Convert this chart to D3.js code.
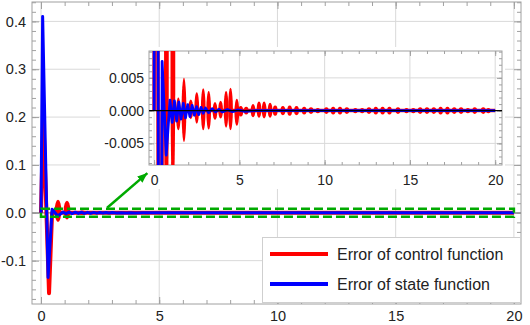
<!DOCTYPE html>
<html>
<head>
<meta charset="utf-8">
<script src="https://cdn.jsdelivr.net/npm/d3@7"></script>
<style>
  html, body { margin: 0; padding: 0; background: #fff; }
  svg { display: block; font-family: "Liberation Sans", Arial, sans-serif; }
</style>
</head>
<body>
<div id="chart"></div>
<script>
// tick values
const timeTicks = [0, 5, 10, 15, 20];
const mainValueTicks = [-0.1, 0, 0.1, 0.2, 0.3, 0.4];
const insetValueTicks = [-0.005, 0, 0.005];
const seriesNames = ["Error of control function", "Error of state function"];

// state error (blue): spike, then a decaying wiggle
const stateT = [0, 0.07, 0.30, 0.47, 0.71, 0.93, 1.06, 1.19, 1.32, 1.45, 1.58, 1.71, 1.84, 1.97, 2.10,
  2.23, 2.36, 2.49, 2.62, 2.75, 2.88, 3.01, 3.20, 3.40, 3.60, 3.80, 4.00, 4.30, 4.60, 4.90, 5.30, 6.0, 20];
const stateErr = [0, 0.41, -0.135, 0.0075, -0.0068, 0.0016, -0.0018, 0.0015, -0.0016, 0.0013, -0.0013, 0.0011, -0.0011, 0.0009, -0.0009,
  0.0008, -0.0007, 0.0006, -0.0006, 0.0005, -0.0004, 0.0004, -0.0003, 0.0003, -0.0002, 0.0002, -0.0002, 0.00015, -0.00015, 0.0001, -0.0001, 0, 0];

// control error (red): first transient
const controlT = [0, 0.10, 0.34, 0.47, 20];
const controlErr = [0, 0.2, -0.168, 0, 0];

// control error ringing, one blob per burst: centre time, top and bottom
const lobeT = [0.72, 1.10, 1.42, 1.75, 2.15, 2.50, 2.88, 3.20, 3.57, 3.90, 4.22, 4.48, 4.85, 5.08, 5.40,
  5.80, 6.15, 6.45, 6.80, 7.10, 7.55, 7.95, 8.35, 8.80, 9.20, 9.60, 10.1, 10.5, 10.9, 11.3,
  11.8, 12.2, 12.6, 13.0, 13.4, 13.8, 14.3, 14.8, 15.2, 15.6, 16.0, 16.4, 16.8, 17.2, 17.6,
  18.0, 18.4, 18.8, 19.3, 19.6];
const lobeHi = [0.027, 0.025, 0.002, 0.0050, 0.0017, 0.0028, 0.0034, 0.0030, 0.0013, 0.0015, 0.0030, 0.0035, 0.0018, 0.0007, 0.0006,
  0.0010, 0.0014, 0.0014, 0.0012, 0.0008, 0.0007, 0.0008, 0.0007, 0.0006, 0.0005, 0.0004, 0.0005, 0.0006, 0.0006, 0.0005,
  0.0004, 0.0004, 0.0005, 0.0006, 0.0006, 0.0006, 0.0005, 0.0004, 0.0004, 0.0005, 0.0005, 0.0005, 0.0006, 0.0006, 0.0005,
  0.0005, 0.0004, 0.0005, 0.0005, 0.0004];
const lobeLo = [-0.019, -0.014, -0.003, -0.0048, -0.0013, -0.0020, -0.0030, -0.0029, -0.0014, -0.0012, -0.0026, -0.0030, -0.0023, -0.0009, -0.0006,
  -0.0010, -0.0011, -0.0012, -0.0011, -0.0008, -0.0007, -0.0008, -0.0007, -0.0006, -0.0005, -0.0004, -0.0005, -0.0006, -0.0006, -0.0005,
  -0.0004, -0.0004, -0.0005, -0.0006, -0.0006, -0.0006, -0.0005, -0.0004, -0.0004, -0.0005, -0.0005, -0.0005, -0.0006, -0.0006, -0.0005,
  -0.0005, -0.0004, -0.0005, -0.0005, -0.0004];

// zoom window shown in the inset, and the arrow pointing to it (main plot units)
const zoomT = [0, 20];
const zoomV = [-0.0085, 0.0085];
const arrowT = [2.8, 4.5];
const arrowV = [0.0105, 0.083];

const RED = "#ff0000", BLUE = "#0000ff", GREEN = "#00aa00";
const FRAME = "#a0a0a0", GRID = "#d9d9d9", LABEL = "#222";
const LOBE_HALF = 0.14;

const svg = d3.select("#chart").append("svg")
  .attr("width", 530).attr("height", 325);

const xMain = d3.scaleLinear().domain([-0.38, 20.3]).range([32, 521]);
const yMain = d3.scaleLinear().domain([-0.1906, 0.4405]).range([304, 2]);
const xIn = d3.scaleLinear().domain([-0.3, 20.4]).range([149, 502]);
const yIn = d3.scaleLinear().domain([-0.0083, 0.0091]).range([165, 51]);

const stateData = stateT.map((t, i) => ({ t, v: stateErr[i] }));
const controlData = controlT.map((t, i) => ({ t, v: controlErr[i] }));
const lobeData = lobeT.map((t, i) => ({ t, hi: lobeHi[i], lo: lobeLo[i] }));

// hyphen minus like the original labels
const numFormat = spec => d => d3.format(spec)(d).replace("\u2212", "-");

// grid, frame ticks and labels for one panel
const drawPanel = (g, x, y, o) => {
  const [xa, xb] = x.range();
  const [yb, ya] = y.range();

  g.append("rect")
    .attr("x", xa).attr("y", ya).attr("width", xb - xa).attr("height", yb - ya)
    .attr("fill", "#fff");

  g.append("g").selectAll("line").data(timeTicks).join("line")
    .attr("x1", d => x(d)).attr("x2", d => x(d)).attr("y1", ya).attr("y2", yb)
    .attr("stroke", GRID);
  g.append("g").selectAll("line").data(o.yMajor.filter(d => d !== 0)).join("line")
    .attr("x1", xa).attr("x2", xb).attr("y1", d => y(d)).attr("y2", d => y(d))
    .attr("stroke", GRID);

  const axes = [
    [d3.axisBottom(x), `translate(0,${yb})`, timeTicks, o.xMinor, d3.format("d"), o.padBottom],
    [d3.axisTop(x), `translate(0,${ya})`, timeTicks, o.xMinor, null, 0],
    [d3.axisLeft(y), `translate(${xa},0)`, o.yMajor, o.yMinor, o.yFormat, o.padLeft],
    [d3.axisRight(y), `translate(${xb},0)`, o.yMajor, o.yMinor, null, 0]
  ];
  axes.forEach(([axis, tr, major, minor, fmt, pad]) => {
    const ga = g.append("g").attr("transform", tr);
    ga.call(axis.tickValues(minor).tickSize(-o.minorLen).tickFormat(""));
    ga.append("g").call(axis.tickValues(major).tickSize(-o.majorLen)
      .tickPadding(pad).tickFormat(fmt || ""));
    ga.selectAll(".domain").remove();
    ga.selectAll("line").attr("stroke", FRAME);
    ga.selectAll("text").attr("fill", LABEL).style("font-size", o.fontSize + "px")
      .style("font-family", "'Liberation Sans', Arial, sans-serif");
  });

  g.append("rect")
    .attr("x", xa).attr("y", ya).attr("width", xb - xa).attr("height", yb - ya)
    .attr("fill", "none").attr("stroke", FRAME);
};

const drawSeries = (g, x, y, o) => {
  const [xa, xb] = x.range();
  const [yb, ya] = y.range();
  const clipId = "clip-" + o.id;
  g.append("clipPath").attr("id", clipId).append("rect")
    .attr("x", xa).attr("y", ya).attr("width", xb - xa).attr("height", yb - ya);
  const c = g.append("g").attr("clip-path", `url(#${clipId})`);

  const line = d3.line().x(d => x(d.t)).y(d => y(d.v));

  c.append("path").datum(controlData)
    .attr("d", line).attr("fill", "none")
    .attr("stroke", RED).attr("stroke-width", o.redWidth).attr("stroke-linejoin", "round");
  c.selectAll(".lobe").data(lobeData).join("ellipse")
    .attr("class", "lobe")
    .attr("cx", d => x(d.t))
    .attr("cy", d => (y(d.hi) + y(d.lo)) / 2)
    .attr("rx", d => x(d.t + LOBE_HALF) - x(d.t))
    .attr("ry", d => (y(d.lo) - y(d.hi)) / 2)
    .attr("fill", RED);
  c.append("path").datum(stateData)
    .attr("d", line).attr("fill", "none")
    .attr("stroke", BLUE).attr("stroke-width", o.blueWidth).attr("stroke-linejoin", "round");
};

// main plot
const gMain = svg.append("g");
drawPanel(gMain, xMain, yMain, {
  yMajor: mainValueTicks,
  yMinor: d3.range(-0.18, 0.441, 0.02),
  xMinor: d3.range(0, 21, 1),
  yFormat: numFormat(".1f"),
  majorLen: 7, minorLen: 4, fontSize: 14.5, padBottom: 7, padLeft: 6
});
gMain.append("line")
  .attr("x1", xMain.range()[0]).attr("x2", xMain.range()[1])
  .attr("y1", yMain(0)).attr("y2", yMain(0))
  .attr("stroke", "#8c8c8c").attr("stroke-width", 1.3);
drawSeries(gMain, xMain, yMain, { id: "main", redWidth: 4, blueWidth: 3 });

// zoom window
gMain.append("rect")
  .attr("x", xMain(zoomT[0])).attr("y", yMain(zoomV[1]))
  .attr("width", xMain(zoomT[1]) - xMain(zoomT[0]))
  .attr("height", yMain(zoomV[0]) - yMain(zoomV[1]))
  .attr("fill", "none").attr("stroke", GREEN).attr("stroke-width", 2.5)
  .attr("stroke-dasharray", "9,4");

// inset
const gIn = svg.append("g");
gIn.append("rect")
  .attr("x", 100).attr("y", 47).attr("width", 405).attr("height", 142)
  .attr("fill", "#fff");
drawPanel(gIn, xIn, yIn, {
  yMajor: insetValueTicks,
  yMinor: d3.range(-0.008, 0.0091, 0.001),
  xMinor: d3.range(0, 21, 1),
  yFormat: numFormat(".3f"),
  majorLen: 5, minorLen: 3, fontSize: 14, padBottom: 10, padLeft: 5
});
drawSeries(gIn, xIn, yIn, { id: "inset", redWidth: 3.5, blueWidth: 2.8 });
gIn.append("line")
  .attr("x1", xIn.range()[0]).attr("x2", xIn.range()[1])
  .attr("y1", yIn(0)).attr("y2", yIn(0))
  .attr("stroke", "#000").attr("stroke-width", 1.2);

// arrow from the zoom window to the inset
svg.append("defs").append("marker")
  .attr("id", "head").attr("viewBox", "0 0 10 8")
  .attr("refX", 10).attr("refY", 4)
  .attr("markerWidth", 10).attr("markerHeight", 8)
  .attr("markerUnits", "userSpaceOnUse").attr("orient", "auto")
  .append("path").attr("d", "M0,0L10,4L0,8Z").attr("fill", GREEN);
svg.append("line")
  .attr("x1", xMain(arrowT[0])).attr("y1", yMain(arrowV[0]))
  .attr("x2", xMain(arrowT[1])).attr("y2", yMain(arrowV[1]))
  .attr("stroke", GREEN).attr("stroke-width", 2.5)
  .attr("marker-end", "url(#head)");

// legend
const legend = svg.append("g");
legend.append("rect")
  .attr("x", 262.5).attr("y", 237.5).attr("width", 258).attr("height", 65)
  .attr("fill", "#fff").attr("stroke", "#cfcfcf");
const rows = legend.selectAll(".row").data(seriesNames).join("g")
  .attr("class", "row")
  .attr("transform", (d, i) => `translate(0,${254 + i * 30})`);
rows.append("line")
  .attr("x1", 270).attr("x2", 328).attr("y1", 0).attr("y2", 0)
  .attr("stroke", (d, i) => i === 0 ? RED : BLUE).attr("stroke-width", 4);
rows.append("text")
  .attr("x", 337).attr("y", 5.5)
  .attr("fill", "#222").style("font-size", "16px")
  .text(d => d);
</script>
</body>
</html>
